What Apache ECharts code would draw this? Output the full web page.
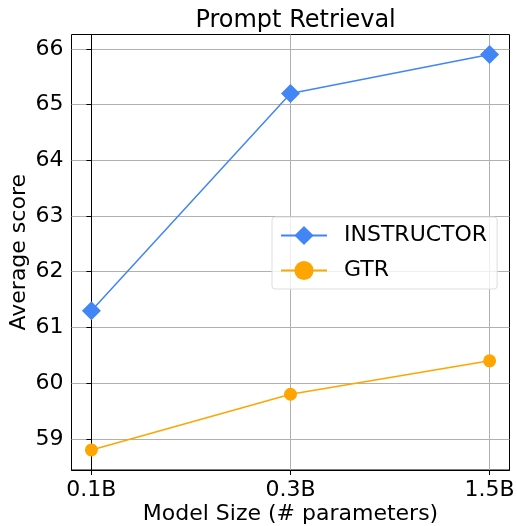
<!DOCTYPE html>
<html><head><meta charset="utf-8">
<script src="https://cdn.jsdelivr.net/npm/echarts@6/dist/echarts.min.js"></script>
<style>html,body{margin:0;padding:0;background:#fff}#c{width:517px;height:526px}</style>
</head><body><div id="c"></div>
<script>
const categories = ['0.1B', '0.3B', '1.5B'];
const instructor = [61.3, 65.2, 65.9];
const gtr = [58.8, 59.8, 60.4];
const yTicks = [59, 60, 61, 62, 63, 64, 65, 66];

const font = 'DejaVu Sans';
const chart = echarts.init(document.getElementById('c'), null, {renderer: 'canvas'});
const toPairs = arr => arr.map((v, i) => [i, v]);
chart.setOption({
  animation: false,
  textStyle: {fontFamily: font},
  title: {text: 'Prompt Retrieval', left: 290.6, textAlign: 'center', top: 4, textStyle: {fontFamily: font, fontSize: 24, fontWeight: 'normal', color: '#000'}},
  grid: {left: 71.5, top: 34.5, right: 7.5, bottom: 56, show: true, borderColor: '#000', borderWidth: 1, containLabel: false, outerBoundsMode: 'none'},
  legend: {
    data: ['INSTRUCTOR', 'GTR'], orient: 'vertical', left: 272, top: 217,
    padding: [6, 10, 6, 8], itemGap: 10, itemWidth: 46, itemHeight: 24,
    borderColor: '#dddddd', borderWidth: 1, borderRadius: 3, backgroundColor: 'rgba(255,255,255,0.8)',
    textStyle: {fontFamily: font, fontSize: 22, color: '#000', padding: [0, 0, 0, 12], lineHeight: 25}
  },
  xAxis: {
    type: 'value', min: -0.1, max: 2.1,
    name: 'Model Size (# parameters)', nameLocation: 'middle', nameGap: 33, nameMoveOverlap: false,
    nameTextStyle: {fontFamily: font, fontSize: 22, color: '#000'},
    axisLine: {show: true, lineStyle: {color: '#000'}},
    axisTick: {show: true, customValues: [0, 1, 2], length: 5, inside: false, lineStyle: {color: '#000'}},
    axisLabel: {customValues: [0, 1, 2], formatter: v => categories[Math.round(v)], fontFamily: font, fontSize: 22, color: '#000', margin: 9},
    splitLine: {show: true, lineStyle: {color: '#b0b0b0', width: 1}}
  },
  yAxis: {
    type: 'value', min: 58.44, max: 66.26,
    name: 'Average score', nameLocation: 'middle', nameGap: 41, nameMoveOverlap: false,
    nameTextStyle: {fontFamily: font, fontSize: 22, color: '#000'},
    axisLine: {show: true, lineStyle: {color: '#000'}},
    axisTick: {show: true, customValues: yTicks, length: 5, lineStyle: {color: '#000'}},
    axisLabel: {customValues: yTicks, fontFamily: font, fontSize: 22, color: '#000', margin: 8},
    splitLine: {show: true, lineStyle: {color: '#b0b0b0', width: 1}}
  },
  series: [
    {name: 'INSTRUCTOR', type: 'line', data: toPairs(instructor), symbol: 'diamond', symbolSize: 19,
     itemStyle: {color: '#4285F4'}, lineStyle: {color: '#4285F4', width: 1.5}},
    {name: 'GTR', type: 'line', data: toPairs(gtr), symbol: 'circle', symbolSize: 13,
     itemStyle: {color: '#FFA500'}, lineStyle: {color: '#FFA500', width: 1.5}}
  ]
});
</script></body></html>
